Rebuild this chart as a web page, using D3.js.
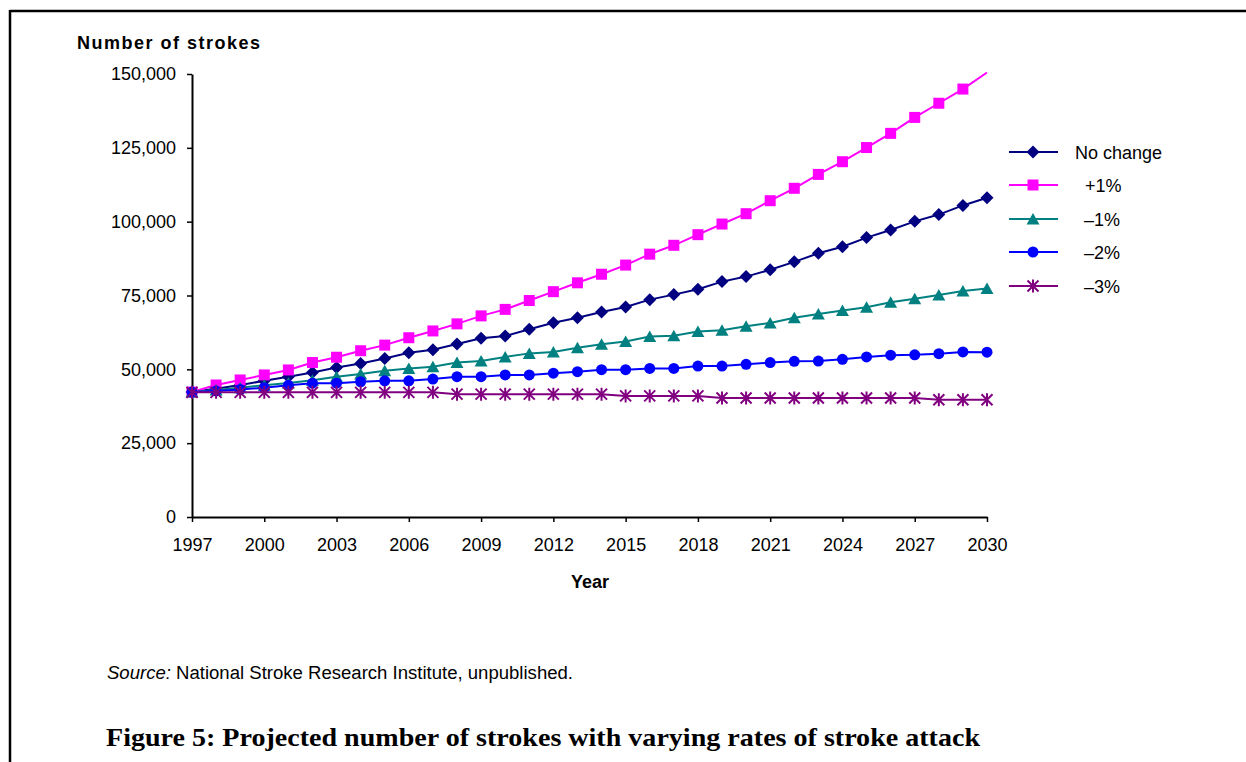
<!DOCTYPE html>
<html>
<head>
<meta charset="utf-8">
<script src="https://cdn.jsdelivr.net/npm/d3@7"></script>
<style>
  html, body { margin: 0; padding: 0; background: #fff; }
  svg { display: block; }
  text { font-family: "Liberation Sans", Arial, sans-serif; fill: #000; }
</style>
</head>
<body>
<svg id="chart" width="1246" height="762"></svg>
<script>
// ---------------- DATA ----------------
const years = [1997,1998,1999,2000,2001,2002,2003,2004,2005,2006,2007,2008,2009,2010,2011,2012,2013,2014,2015,2016,2017,2018,2019,2020,2021,2022,2023,2024,2025,2026,2027,2028,2029,2030];
const xTickYears = [1997,2000,2003,2006,2009,2012,2015,2018,2021,2024,2027,2030];
const yTickValues = [0,25000,50000,75000,100000,125000,150000];

const noChange = [42300,43400,44700,46100,47500,48900,50600,52000,53700,55600,56600,58600,60500,61300,63600,65800,67500,69400,71100,73600,75300,77100,79700,81400,83700,86400,89300,91500,94600,97200,100100,102400,105500,108100];
const plus1    = [42300,44700,46400,48100,49800,52300,54100,56300,58200,60700,63000,65400,68100,70300,73300,76300,79300,82200,85300,89000,92000,95600,99200,102700,107100,111300,116000,120300,125100,129900,135300,140100,144900,150500];
const minus1   = [42300,43000,43800,44600,45400,46300,47500,48400,49500,50300,50900,52300,52800,54200,55400,55900,57300,58500,59400,61100,61400,62800,63200,64600,65700,67500,68700,69900,71000,72700,73900,75200,76500,77400];
const minus2   = [42300,42700,43200,43800,44600,45300,45300,45800,46100,46100,46700,47500,47500,48100,48100,48700,49200,49900,49900,50300,50300,51100,51100,51700,52300,52700,52800,53400,54200,54800,54900,55300,55900,55800];
const minus3   = [42200,42200,42200,42200,42200,42200,42200,42200,42200,42200,42200,41600,41600,41600,41600,41600,41600,41600,41000,41000,41000,41000,40300,40300,40300,40300,40300,40300,40300,40300,40300,39700,39700,39700];

const seriesNames  = ["No change", "+1%", "\u20131%", "\u20132%", "\u20133%"];
const seriesValues = [noChange, plus1, minus1, minus2, minus3];
const seriesColors = ["#000080", "#FF00FF", "#008080", "#0000FF", "#800080"];
const seriesMarkers = ["diamond", "square", "triangle", "circle", "star"];

// ---------------- LAYOUT ----------------
const svg = d3.select("#chart");
const X0 = 192, X1 = 987, Y0 = 517, Y1 = 74;
const yMax = 150000;

const x = d3.scaleLinear().domain([1997, 2030]).range([X0, X1]);
const y = d3.scaleLinear().domain([0, yMax]).range([Y0, Y1]);

// frame
svg.append("line").attr("x1", 10).attr("x2", 1246).attr("y1", 11).attr("y2", 11)
  .attr("stroke", "#000").attr("stroke-width", 2.5);
svg.append("line").attr("x1", 10).attr("x2", 10).attr("y1", 10).attr("y2", 762)
  .attr("stroke", "#000").attr("stroke-width", 2.5);

// axes
const yAxis = d3.axisLeft(y).tickValues(yTickValues).tickFormat(d3.format(","))
  .tickSize(5).tickSizeOuter(0).tickPadding(11);
const gy = svg.append("g").attr("transform", `translate(${X0},0)`).call(yAxis);
gy.select(".domain").attr("stroke-width", 2);
gy.selectAll(".tick line").attr("stroke-width", 1.5);
gy.selectAll("text").attr("font-size", 18).attr("font-family", '"Liberation Sans", Arial, sans-serif').attr("fill", "#000");

const xAxis = d3.axisBottom(x).tickValues(xTickYears).tickFormat(d3.format("d"))
  .tickSize(5).tickSizeOuter(0).tickPadding(16);
const gx = svg.append("g").attr("transform", `translate(0,${Y0})`).call(xAxis);
gx.select(".domain").attr("stroke-width", 2);
gx.selectAll(".tick line").attr("stroke-width", 1.5);
gx.selectAll("text").attr("font-size", 18).attr("font-family", '"Liberation Sans", Arial, sans-serif').attr("fill", "#000");

// axis titles
svg.append("text").attr("x", 77).attr("y", 49).attr("font-size", 18).attr("font-weight", "bold")
  .attr("textLength", 183).attr("lengthAdjust", "spacing").text("Number of strokes");
svg.append("text").attr("x", 590).attr("y", 588).attr("font-size", 18).attr("font-weight", "bold")
  .attr("text-anchor", "middle").text("Year");

// marker drawing
function drawMarker(g, type, color) {
  if (type === "diamond") {
    g.append("path").attr("d", "M0,-6.5L6.5,0L0,6.5L-6.5,0Z").attr("fill", color);
  } else if (type === "square") {
    g.append("rect").attr("x", -5.5).attr("y", -5.5).attr("width", 11).attr("height", 11).attr("fill", color);
  } else if (type === "triangle") {
    g.append("path").attr("d", "M0,-6L6.5,5.5L-6.5,5.5Z").attr("fill", color);
  } else if (type === "circle") {
    g.append("circle").attr("r", 5.5).attr("fill", color);
  } else if (type === "star") {
    g.append("path").attr("d", "M-5.5,-5.5L5.5,5.5M-5.5,5.5L5.5,-5.5M0,-6.5L0,6.5")
      .attr("stroke", color).attr("stroke-width", 2).attr("fill", "none");
  }
}

// lines + markers
const line = d3.line().x(d => x(d.year)).y(d => y(d.value));
seriesValues.forEach((vals, i) => {
  const pts = years.map((yr, j) => ({ year: yr, value: vals[j] }));
  svg.append("path").datum(pts).attr("d", line)
    .attr("fill", "none").attr("stroke", seriesColors[i]).attr("stroke-width", 2);
  const gm = svg.append("g");
  pts.filter(p => p.value <= yMax).forEach(p => {
    const m = gm.append("g").attr("transform", `translate(${x(p.year)},${y(p.value)})`);
    drawMarker(m, seriesMarkers[i], seriesColors[i]);
  });
});

// legend
const legendY = [152, 185, 219, 252, 286];
const legendTextX = [1075, 1085, 1084, 1084, 1084];
seriesNames.forEach((name, i) => {
  const gl = svg.append("g").attr("transform", `translate(0,${legendY[i]})`);
  gl.append("line").attr("x1", 1009).attr("x2", 1058).attr("y1", 0).attr("y2", 0)
    .attr("stroke", seriesColors[i]).attr("stroke-width", 2);
  const m = gl.append("g").attr("transform", "translate(1033,0)");
  drawMarker(m, seriesMarkers[i], seriesColors[i]);
  gl.append("text").attr("x", legendTextX[i]).attr("y", 6.5).attr("font-size", 18).text(name);
});

// source
const src = svg.append("text").attr("x", 107).attr("y", 679).attr("font-size", 18)
  .attr("textLength", 466).attr("lengthAdjust", "spacingAndGlyphs");
src.append("tspan").attr("font-style", "italic").text("Source:");
src.append("tspan").text(" National Stroke Research Institute, unpublished.");

// caption
svg.append("text").attr("x", 106).attr("y", 746).attr("font-size", 25).attr("font-weight", "bold")
  .attr("font-family", '"Liberation Serif", serif').style("font-family", '"Liberation Serif", serif')
  .attr("textLength", 874).attr("lengthAdjust", "spacingAndGlyphs")
  .text("Figure 5: Projected number of strokes with varying rates of stroke attack");
</script>
</body>
</html>
